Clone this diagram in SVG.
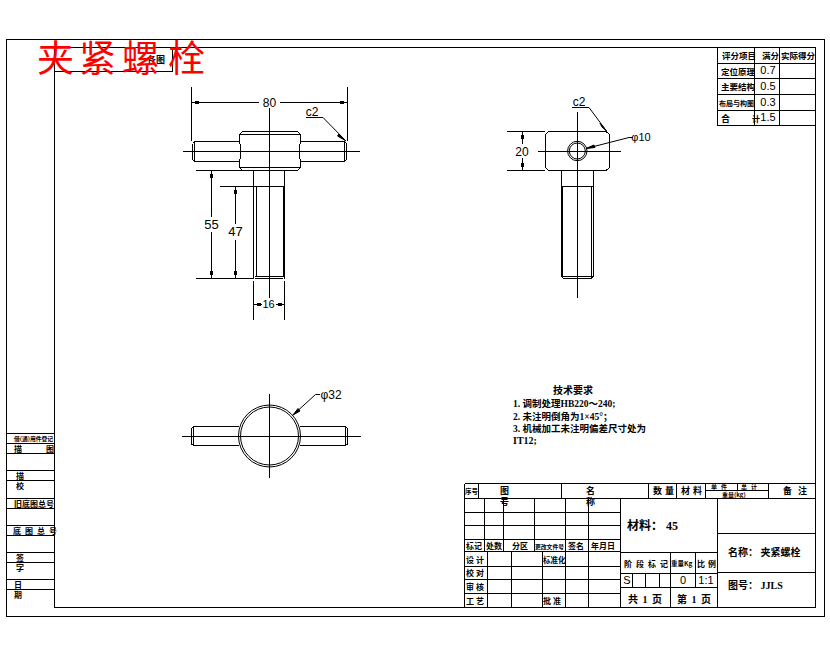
<svg xmlns="http://www.w3.org/2000/svg" width="830" height="654" viewBox="0 0 830 654">
<style>
.l{fill:none;stroke:#000;stroke-width:1;shape-rendering:crispEdges}
.a{fill:none;stroke:#000;stroke-width:1}
.t{fill:#000;stroke:none;shape-rendering:crispEdges}
.c{font-family:"Noto Sans CJK SC","Liberation Serif",sans-serif;font-size:9px;font-weight:700;fill:#000}
.d{font-family:"Liberation Sans",sans-serif;font-size:12px;fill:#000;text-anchor:middle}
.s{font-family:"Liberation Serif","Noto Sans CJK SC",serif;font-size:10px;font-weight:700;fill:#000}
.n{font-family:"Liberation Sans",sans-serif;font-size:11px;fill:#000;text-anchor:middle}
.r{font-family:"Noto Sans CJK SC",sans-serif;font-size:37px;fill:#f00}
</style>
<rect width="830" height="654" fill="#fff"/>
<g id="frame">
<path class="l" d="M6.5 39.5H824.5V616.5H6.5ZM54.5 47.5H815.5V607.5H54.5ZM54.5 71.5H172.5V47.5"/>
<text class="c" x="147" y="63">各图</text>
</g>
<g id="side-column">
<path class="l" d="M6.5 433.5H55M6.5 443.5H55M6.5 453.5H55M6.5 470.5H55M6.5 480.5H55M6.5 498.5H55M6.5 508.5H55M6.5 525.5H55M6.5 535.5H55M6.5 552.5H55M6.5 562.5H55M6.5 579.5H55M6.5 589.5H55"/>
<text class="c" x="14" y="441" style="font-size:5.800px">借(通)用件登记</text>
<text class="c" x="14" y="451.500" style="font-size:8px">描</text><text class="c" x="46" y="451.500" style="font-size:8px">图</text>
<text class="c" x="16" y="478.500" style="font-size:8px">描</text><text class="c" x="16" y="488.500" style="font-size:8px">校</text>
<text class="c" x="14" y="506.500" style="font-size:8px">旧底图总号</text>
<text class="c" x="13" y="534" style="font-size:8px;letter-spacing:4px">底图总号</text>
<text class="c" x="16" y="560.500" style="font-size:8px">签</text><text class="c" x="16" y="570.500" style="font-size:8px">字</text>
<text class="c" x="14" y="587.500" style="font-size:8px">日</text><text class="c" x="14" y="597.500" style="font-size:8px">期</text>
</g>
<g id="front-view">
<path class="l" d="M192.500 143.500L194.500 141.500H239.500M192.500 159.500L194.500 161.500H239.500M192.500 143.500V159.500M194.500 141.500V161.500"/>
<path class="l" d="M300.500 141.500H344.500L346.500 143.500V159.500L344.500 161.500H300.500M344.500 141.500V161.500"/>
<path class="l" d="M239.500 134.500L242.500 131.500H297.500L300.500 134.500V141.500L299.500 146V157L300.500 161.500V167.500L297.500 170.500H242.500L239.500 167.500V161.500L240.500 157V146L239.500 141.500ZM239.500 134.500H300.500M239.500 167.500H300.500"/>
<path class="l" d="M253.500 170.500V278.500M284.500 170.500V278.500M253.500 186.500H284.500M256.500 186.500V276M283.500 186.500V276M254.500 276.500H284M255 278.500H283"/>
<path class="l" d="M183 151.500H360M269.500 108V298"/>
</g>
<g id="side-view">
<path class="l" d="M545.500 134.500L548.500 131.500H606L609.500 134.500V167.500L606 170.500H548.500L545.500 167.500Z"/>
<path class="l" d="M561.500 170.500V276.500L563.500 278.500H591L593.500 276.500V170.500M562.500 186.500V276M591.500 186.500V276M561.500 186.500H593.500M562 276.500H593"/>
<circle class="a" cx="577.300" cy="151" r="9.700"/><circle class="a" cx="577.300" cy="151" r="8"/>
<path class="l" d="M538 151.500H621M577.500 112V298"/>
</g>
<g id="top-view">
<circle class="a" cx="269.500" cy="436" r="31"/><circle class="a" cx="269.500" cy="436" r="29"/>
<path class="l" d="M239 426.500H193.500L191.500 428.500V444L193.500 445.500H239M193.500 426.500V445.500M300 426.500H345.500L347.500 428.500V444L345.500 445.500H300M345.500 426.500V445.500"/>
<path class="l" d="M182 436.500H361M269.500 394V478"/>
</g>
<g id="connectors">
<path class="l" d="M191.500 87V141M347.500 87V141M191.500 102.500H259M280 102.500H347.500"/>
<rect class="t" x="195" y="101" width="4" height="3"/><rect class="t" x="340" y="101" width="4" height="3"/>
<path class="l" d="M196 170.500H253M196 278.500H253M220 186.500H253M211.500 170.500V217M211.500 232V278.500M235.500 186.500V224M235.500 240V278.500"/>
<rect class="t" x="210" y="174" width="3" height="4"/><rect class="t" x="210" y="271" width="3" height="4"/>
<rect class="t" x="234" y="190" width="3" height="4"/><rect class="t" x="234" y="271" width="3" height="4"/>
<path class="l" d="M253.500 281V320M284.500 281V320M253.500 304.500H262M276 304.500H284.500"/>
<rect class="t" x="257" y="303" width="4" height="3"/><rect class="t" x="278" y="303" width="4" height="3"/>
<path class="l" d="M306 117.500H323"/><path class="a" d="M323 117.500L346 141"/>
<path d="M339 134L346 141L337.500 136Z" fill="#000" stroke="#000"/>
<path class="l" d="M507 131.500H545M507 170.500H545M522.500 131.500V144M522.500 158V170.500"/>
<rect class="t" x="521" y="135" width="3" height="4"/><rect class="t" x="521" y="163" width="3" height="4"/>
<path class="l" d="M571.500 107.500H589"/><path class="a" d="M589 107.500L606.500 131"/>
<path d="M600 123L606.500 131L602 127Z" fill="#000" stroke="#000"/>
<path class="a" d="M586 148.500L629 137.500H633"/>
<path d="M586 148.500L594 145L595 147.500Z" fill="#000" stroke="#000"/>
<path class="a" d="M293 415L315.500 394.500H320"/>
<path d="M293 415L298 408.500L300 411Z" fill="#000" stroke="#000"/>
</g>
<g id="dimension-labels">
<text class="d" x="269.500" y="107">80</text>
<text class="d" x="211.500" y="229" style="font-size:13px">55</text>
<text class="d" x="235.500" y="236" style="font-size:13px">47</text>
<text class="n" x="268.500" y="308">16</text>
<text class="d" x="312" y="116">c2</text>
<text class="d" x="579" y="106">c2</text>
<text class="d" x="522" y="155.500">20</text>
<text class="n" x="641" y="141">φ10</text>
<text class="d" x="331" y="399">φ32</text>
</g>
<g id="title-stamp">
<text class="r" x="37" y="72">夹</text><text class="r" x="79" y="72">紧</text><text class="r" x="122" y="72">螺</text><text class="r" x="168" y="72">栓</text>
</g>
<g id="score-table">
<path class="l" d="M717.500 47.500V125.500H815.500M754.500 47.500V125.500M779.500 47.500V125.500M717.500 63.500H815.500M717.500 78.500H815.500M717.500 94.500H815.500M717.500 110.500H815.500"/>
<text class="c" x="722" y="59" style="font-size:8.500px">评分项目</text><text class="c" x="762" y="59" style="font-size:8.500px">满分</text><text class="c" x="781" y="59" style="font-size:8.500px">实际得分</text>
<text class="c" x="721" y="75" style="font-size:8.500px">定位原理</text><text class="n" x="768" y="74">0.7</text>
<text class="c" x="721" y="90" style="font-size:8.500px">主要结构</text><text class="n" x="768" y="90">0.5</text>
<text class="c" x="719" y="106" style="font-size:7px">布局与构图</text><text class="n" x="768" y="106">0.3</text>
<text class="c" x="721" y="122">合</text><text class="c" x="752" y="122" style="font-size:8px">计</text><text class="n" x="768" y="121">1.5</text>
</g>
<g id="tech-notes">
<text class="s" x="553" y="394">技术要求</text>
<text class="s" x="513" y="406.500" style="font-size:9.500px">1. 调制处理HB220～240;</text>
<text class="s" x="513" y="419.500" style="font-size:9.500px">2. 未注明倒角为1×45°；</text>
<text class="s" x="513" y="432" style="font-size:9.500px">3. 机械加工未注明偏差尺寸处为</text>
<text class="s" x="513" y="444">IT12;</text>
</g>
<g id="title-block">
<path class="l" d="M464.500 483.500H815.500M464.500 483.500V607.500M464.500 498.500H815.500M478.500 483.500V498.500M561.500 483.500V498.500M648.500 483.500V498.500M676.500 483.500V498.500M705.500 483.500V498.500M768.500 483.500V498.500M705.500 490.500H768.500M737.500 483.500V490.500"/>
<path class="l" d="M464.500 512.500H620.500M464.500 525.500H620.500M464.500 539.500H620.500M464.500 551.500H620.500M464.500 566.500H620.500M464.500 579.500H620.500M464.500 593.500H620.500"/>
<path class="l" d="M484.500 498.500V551.500M503.500 498.500V551.500M534.500 498.500V551.500M565.500 498.500V607.500M588.500 498.500V607.500M620.500 498.500V607.500M487.500 551.500V607.500M511.500 551.500V607.500M542.500 551.500V607.500"/>
<path class="l" d="M717.500 498.500V607.500M717.500 533.500H815.500M717.500 572.500H815.500M620.500 552.500H717.500M620.500 573.500H717.500M620.500 587.500H717.500M670.500 552.500V607.500M695.500 552.500V587.500M632.500 573.500V587.500M645.500 573.500V587.500M659.500 573.500V587.500"/>
<text class="c" x="465" y="494" style="font-size:6.500px">序号</text>
<text class="c" x="500" y="494">图</text><text class="c" x="500" y="505">号</text>
<text class="c" x="586" y="494">名</text><text class="c" x="586" y="505">称</text>
<text class="c" x="653" y="494" style="letter-spacing:3px">数量</text>
<text class="c" x="681" y="494" style="letter-spacing:3px">材料</text>
<text class="c" x="711" y="489" style="font-size:6px;letter-spacing:4px">单件</text>
<text class="c" x="741" y="489" style="font-size:6px;letter-spacing:4px">总计</text>
<text class="c" x="722" y="497" style="font-size:6px">重量(kg)</text>
<text class="c" x="783" y="494" style="letter-spacing:6px">备注</text>
<text class="c" x="466" y="549" style="font-size:8px">标记</text><text class="c" x="486" y="549" style="font-size:8px">处数</text><text class="c" x="512" y="549" style="font-size:8px">分区</text>
<text class="c" x="535" y="549" style="font-size:5.800px">更改文件号</text><text class="c" x="568" y="549" style="font-size:8px">签名</text><text class="c" x="591" y="549" style="font-size:8px">年月日</text>
<text class="c" x="466" y="563" style="font-size:8px;letter-spacing:2px">设计</text><text class="c" x="543" y="563" style="font-size:7.500px">标准化</text>
<text class="c" x="466" y="576" style="font-size:8px;letter-spacing:2px">校对</text>
<text class="c" x="466" y="590" style="font-size:8px;letter-spacing:2px">审核</text>
<text class="c" x="466" y="604" style="font-size:8px;letter-spacing:2px">工艺</text><text class="c" x="543" y="604" style="font-size:8px;letter-spacing:2px">批准</text>
<text class="s" x="627" y="530" style="font-size:12px">材料： 45</text>
<text class="c" x="624" y="567" style="letter-spacing:4px;font-size:8px">阶段标记</text>
<text class="c" x="671" y="566" style="font-size:6.500px">重量Kg</text>
<text class="c" x="697" y="567" style="letter-spacing:3px;font-size:8px">比例</text>
<text class="n" x="627" y="584">S</text><text class="n" x="683" y="584">0</text><text class="n" x="706" y="584">1:1</text>
<text class="s" x="628" y="603" style="letter-spacing:1px">共 1 页</text>
<text class="s" x="677" y="603" style="letter-spacing:1px">第 1 页</text>
<text class="s" x="728" y="556">名称： 夹紧螺栓</text>
<text class="s" x="728" y="589">图号： JJLS</text>
</g>
</svg>
